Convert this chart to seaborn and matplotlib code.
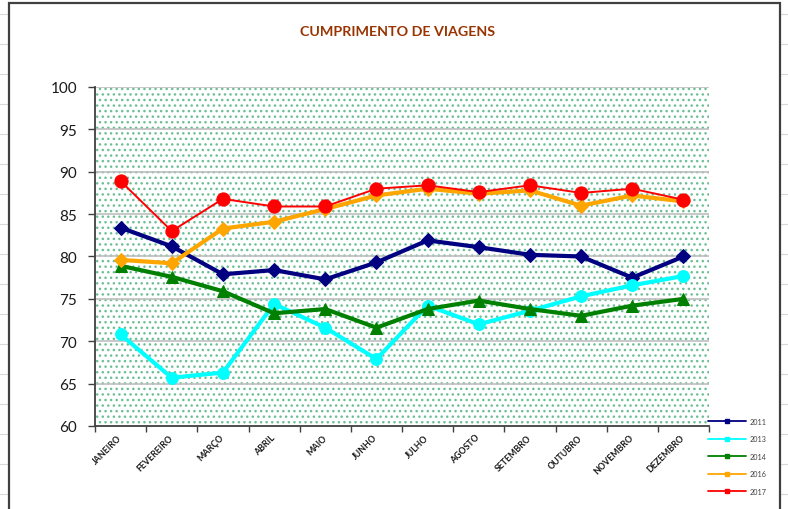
import matplotlib
matplotlib.use("Agg")
import matplotlib.pyplot as plt
import matplotlib.transforms as mtransforms
from matplotlib.lines import Line2D
from matplotlib.patches import Rectangle
import seaborn as sns
import pandas as pd

# Data
months = ['JANEIRO', 'FEVEREIRO', 'MARÇO', 'ABRIL', 'MAIO', 'JUNHO',
          'JULHO', 'AGOSTO', 'SETEMBRO', 'OUTUBRO', 'NOVEMBRO', 'DEZEMBRO']
v2011 = [83.4, 81.2, 77.9, 78.4, 77.3, 79.3, 81.9, 81.1, 80.2, 80.0, 77.5, 80.0]
v2013 = [70.8, 65.7, 66.3, 74.4, 71.6, 67.9, 74.2, 72.0, 73.6, 75.3, 76.6, 77.7]
v2014 = [78.9, 77.6, 75.9, 73.3, 73.8, 71.6, 73.8, 74.8, 73.8, 73.0, 74.2, 75.0]
v2016 = [79.6, 79.2, 83.3, 84.1, 85.6, 87.2, 88.0, 87.4, 87.8, 86.0, 87.2, 86.5]
v2017 = [88.9, 83.0, 86.8, 85.9, 85.9, 88.0, 88.4, 87.6, 88.4, 87.5, 88.0, 86.7]
years = ['2011', '2013', '2014', '2016', '2017']
yticks = [60, 65, 70, 75, 80, 85, 90, 95, 100]

series = {'2011': v2011, '2013': v2013, '2014': v2014, '2016': v2016, '2017': v2017}
df = pd.DataFrame([(y, m, v) for y in years for m, v in zip(months, series[y])],
                  columns=['Ano', 'Mes', 'Valor'])
df['pos'] = df['Mes'].map({m: i for i, m in enumerate(months)})

styles = {
    '2011': dict(color='#000080', marker='D', lw=3.0, ms=7.5),
    '2013': dict(color='#00FFFF', marker='o', lw=3.0, ms=8.5),
    '2014': dict(color='#008000', marker='^', lw=3.0, ms=8.5),
    '2016': dict(color='#FFA500', marker='D', lw=3.0, ms=7.5),
    '2017': dict(color='#FF0000', marker='o', lw=1.4, ms=9.5),
}

sns.set_theme(style="white")
plt.rcParams['font.family'] = ['Lato', 'DejaVu Sans']
plt.rcParams['hatch.linewidth'] = 1.0

fig = plt.figure(figsize=(7.88, 5.10), dpi=100)
ax = fig.add_axes([95 / 788, 1 - 427 / 510, 614 / 788, 339 / 510])

# spreadsheet look around the chart object
for yy in range(0, 520, 30):
    fig.add_artist(Line2D([0, 1], [1 - (yy + 15) / 510] * 2, transform=fig.transFigure,
                          color='#d9d9d9', lw=0.8, zorder=-5))
fig.add_artist(Rectangle((9 / 788, -0.05), 771 / 788, 1.05 - 4 / 510,
                         transform=fig.transFigure, facecolor='white',
                         edgecolor='#404040', lw=1.6, zorder=-4))

# dotted green plot-area fill
ax.set_facecolor('white')
ax.add_patch(Rectangle((0, 0), 1, 1, transform=ax.transAxes, facecolor='white',
                       edgecolor='#6cbf95', hatch='...', lw=0, zorder=0))
for t in yticks[1:]:
    ax.axhline(t, color='#bfbfbf', lw=1.2, zorder=1)

for y in years:
    st = styles[y]
    sub = df[df['Ano'] == y]
    sns.lineplot(data=sub, x='pos', y='Valor', ax=ax, color=st['color'],
                 marker=st['marker'], linewidth=st['lw'], markersize=st['ms'],
                 markeredgecolor=st['color'], zorder=3, legend=False)

ax.set_xlim(-0.5, 11.5)
ax.set_ylim(60, 100)
ax.set_yticks(yticks)
ax.set_yticklabels([str(t) for t in yticks], fontsize=11, color='#1a1a1a')
ax.set_xticks(range(len(months)))
ax.set_xticks([i - 0.5 for i in range(len(months) + 1)], minor=True)
offset = mtransforms.ScaledTranslation(5 / 100, 0, fig.dpi_scale_trans)
ax.set_xticklabels(months, rotation=45, ha='right', va='center',
                   rotation_mode='anchor', fontsize=6.3, fontweight='bold', color='#1a1a1a')
for lab in ax.get_xticklabels():
    lab.set_transform(lab.get_transform() + offset)
ax.tick_params(axis='x', which='major', length=0, pad=7)
ax.tick_params(axis='x', which='minor', length=4, width=1, color='#404040', direction='out', bottom=True)
ax.tick_params(axis='y', length=5, width=1, color='#404040', direction='out', left=True, pad=8)
ax.set_xlabel('')
ax.set_ylabel('')

for side in ['top', 'right']:
    ax.spines[side].set_visible(False)
for side in ['left', 'bottom']:
    ax.spines[side].set_color('#404040')
    ax.spines[side].set_linewidth(1.3)

fig.text(0.505, 1 - 32 / 510, 'CUMPRIMENTO DE VIAGENS', ha='center', va='center',
         fontsize=10.3, fontweight='bold', color='#993300')

handles = [Line2D([], [], color=styles[y]['color'], lw=1.3, marker='s', markersize=2.2)
           for y in years]
fig.legend(handles, years, loc='upper left', bbox_to_anchor=(708 / 788, 1 - 419 / 510),
           frameon=False, fontsize=5.2, labelcolor='#404040', handlelength=5.2,
           handletextpad=0.5, labelspacing=1.45, borderpad=0, borderaxespad=0)

fig.savefig('out.png', dpi=100)
